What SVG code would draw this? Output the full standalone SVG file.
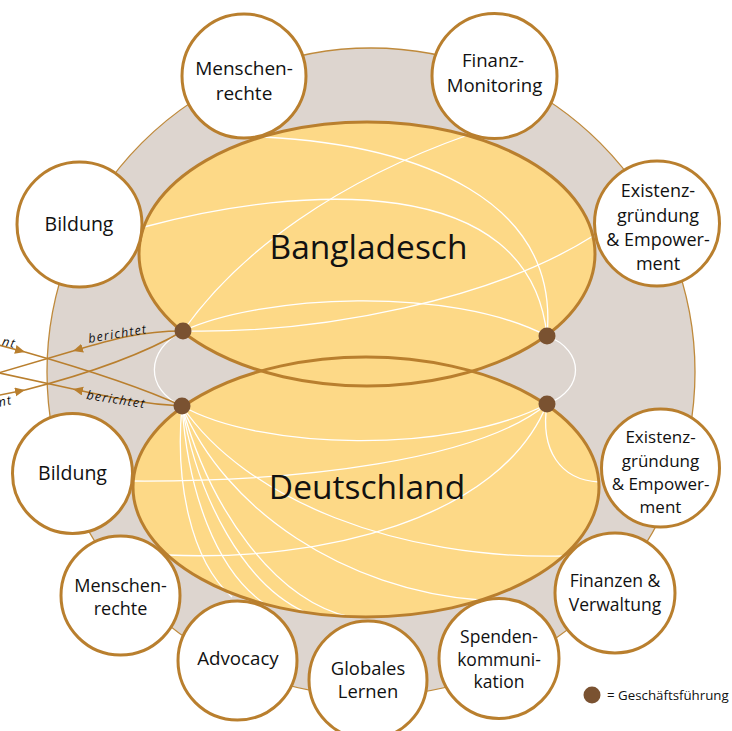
<svg xmlns="http://www.w3.org/2000/svg" width="732" height="731" viewBox="0 0 732 731">
<defs>
<style>
.bg{fill:#ddd5cf;stroke:#bf8a3c;stroke-width:1.3}
.efill{fill:#fdd987;stroke:none}
.eline{fill:none;stroke:#b97f2e;stroke-width:3}
.wl{fill:none;stroke:#ffffff;stroke-width:1.3}
.node{fill:#ffffff;stroke:#b97f2e;stroke-width:3}
.dot{fill:#7a5231}
.rep{fill:none;stroke:#b97f2e;stroke-width:1.6}
text{font-family:"Open Sans","Liberation Sans",sans-serif;fill:#111111}
.lbl{text-anchor:middle;font-size:19px}
.big{text-anchor:middle;font-size:33.5px}
.it{font-style:italic;font-size:12.5px;letter-spacing:1.2px}
</style>
<marker id="ah" markerUnits="userSpaceOnUse" markerWidth="11" markerHeight="10" refX="10" refY="4.5" orient="auto">
<path d="M0,0 L10,4.5 L0,9 z" fill="#b97f2e"/>
</marker>
</defs>

<circle class="bg" cx="371" cy="372" r="324"/>

<g id="ellipse-fills">
<ellipse class="efill" cx="367" cy="254" rx="228" ry="132"/>
<ellipse class="efill" cx="366" cy="487" rx="233" ry="130"/>
</g>

<g id="connectors">
<path class="wl" d="M263,137 C420,145 560,200 547,336"/>
<path class="wl" d="M144,227 C300,185 530,170 547,336"/>
<path class="wl" d="M183,331 C240,250 340,180 468,135"/>
<path class="wl" d="M183,331 C325,334 495,298 593,236"/>
<path class="wl" d="M183,331 C260,295 450,285 547,336"/>
<path class="wl" d="M183,331 C145,350 145,390 182,406"/>
<path class="wl" d="M547,336 C585,350 585,390 547,404"/>
<path class="wl" d="M182,406 C260,450 450,455 547,404"/>
<path class="wl" d="M133,481 C300,482 480,460 547,404"/>
<path class="wl" d="M167,555 C320,562 500,520 547,404"/>
<path class="wl" d="M547,404 C540,450 560,480 599,482"/>
<path class="wl" d="M182,406 C175,480 190,560 232,597"/>
<path class="wl" d="M182,406 C188,490 215,570 265,604"/>
<path class="wl" d="M182,406 C198,500 245,585 305,612"/>
<path class="wl" d="M182,406 C210,510 275,600 350,617"/>
<path class="wl" d="M182,406 C225,510 345,590 480,600"/>
<path class="wl" d="M182,406 C245,500 400,560 563,556"/>
</g>

<g id="bangladesch">
<ellipse class="eline" cx="367" cy="254" rx="228" ry="132"/>
<text class="big" x="368.5" y="259">Bangladesch</text>
</g>
<g id="deutschland">
<ellipse class="eline" cx="366" cy="487" rx="233" ry="130"/>
<text class="big" x="367" y="499">Deutschland</text>
</g>

<g id="menschenrechte-bd">
<circle class="node" cx="244" cy="76" r="62"/>
<text class="lbl" x="244" y="75">Menschen-</text>
<text class="lbl" x="244" y="100">rechte</text>
</g>
<g id="finanz-monitoring">
<circle class="node" cx="494.5" cy="76" r="62.5"/>
<text class="lbl" x="493" y="67" style="font-size:18.6px">Finanz-</text>
<text class="lbl" x="494.5" y="92" style="font-size:18.6px">Monitoring</text>
</g>
<g id="bildung-bd">
<circle class="node" cx="79.5" cy="224.5" r="62.5"/>
<text class="lbl" x="79" y="231" style="font-size:19.5px">Bildung</text>
</g>
<g id="existenz-bd">
<circle class="node" cx="657" cy="223.5" r="62.5"/>
<text class="lbl" x="658" y="197" style="font-size:18px">Existenz-</text>
<text class="lbl" x="658" y="221.5" style="font-size:18px">gründung</text>
<text class="lbl" x="658" y="245.5" style="font-size:18px">&amp; Empower-</text>
<text class="lbl" x="658" y="269.5" style="font-size:18px">ment</text>
</g>
<g id="bildung-de">
<circle class="node" cx="72.5" cy="473.5" r="60"/>
<text class="lbl" x="72.5" y="480" style="font-size:19.5px">Bildung</text>
</g>
<g id="existenz-de">
<circle class="node" cx="660.5" cy="468" r="59"/>
<text class="lbl" x="660.5" y="443" style="font-size:17px">Existenz-</text>
<text class="lbl" x="660.5" y="466.5" style="font-size:17px">gründung</text>
<text class="lbl" x="660.5" y="490" style="font-size:17px">&amp; Empower-</text>
<text class="lbl" x="660.5" y="512.5" style="font-size:17px">ment</text>
</g>
<g id="menschenrechte-de">
<circle class="node" cx="120.5" cy="595.5" r="59.5"/>
<text class="lbl" x="120.5" y="592" style="font-size:18px">Menschen-</text>
<text class="lbl" x="120.5" y="615" style="font-size:18px">rechte</text>
</g>
<g id="advocacy">
<circle class="node" cx="237.5" cy="660.5" r="59.5"/>
<text class="lbl" x="238" y="665" style="font-size:18.7px">Advocacy</text>
</g>
<g id="globales-lernen">
<circle class="node" cx="368" cy="680" r="59"/>
<text class="lbl" x="368" y="675" style="font-size:18.4px">Globales</text>
<text class="lbl" x="368" y="698" style="font-size:18.4px">Lernen</text>
</g>
<g id="spendenkommunikation">
<circle class="node" cx="499" cy="658.5" r="60"/>
<text class="lbl" x="499" y="643" style="font-size:17.5px">Spenden-</text>
<text class="lbl" x="499" y="666" style="font-size:17.5px">kommuni-</text>
<text class="lbl" x="499" y="688" style="font-size:17.5px">kation</text>
</g>
<g id="finanzen-verwaltung">
<circle class="node" cx="615" cy="593" r="60"/>
<text class="lbl" x="615" y="587" style="font-size:17.5px">Finanzen &amp;</text>
<text class="lbl" x="615" y="611" style="font-size:17.5px">Verwaltung</text>
</g>

<g id="reporting">
<path class="rep" d="M183,331 C140,331 110,340 73,351" marker-end="url(#ah)"/>
<path class="rep" d="M73,351 L-5,374"/>
<path class="rep" d="M182,406 C140,404 110,397 73,389" marker-end="url(#ah)"/>
<path class="rep" d="M73,389 L-5,372"/>
<path class="rep" d="M-5,344 L25,352" marker-end="url(#ah)"/>
<path class="rep" d="M25,352 C60,362 130,382 182,406"/>
<path class="rep" d="M-5,396 L25,390" marker-end="url(#ah)"/>
<path class="rep" d="M25,390 C60,381 130,362 183,331"/>
<text class="it" x="89" y="343" transform="rotate(-9.6 89 343)">berichtet</text>
<text class="it" x="86" y="399" transform="rotate(9 86 399)">berichtet</text>
<text class="it" x="15" y="348" text-anchor="end" transform="rotate(12 15 348)">nt</text>
<text class="it" x="13" y="404" text-anchor="end" transform="rotate(-12 13 404)">nt</text>
</g>

<g id="geschaeftsfuehrung">
<circle class="dot" cx="183" cy="331" r="8.5"/>
<circle class="dot" cx="547" cy="336" r="8.5"/>
<circle class="dot" cx="182" cy="406" r="8.5"/>
<circle class="dot" cx="547" cy="404" r="8.5"/>
</g>

<g id="legend">
<circle class="dot" cx="592" cy="695" r="8.5"/>
<text x="607" y="700" style="font-size:13.3px">= Geschäftsführung</text>
</g>
</svg>
